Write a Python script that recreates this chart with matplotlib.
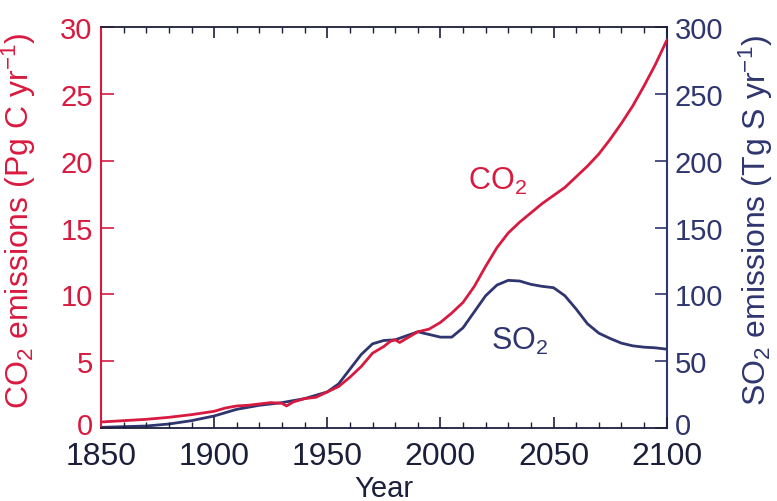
import matplotlib
matplotlib.use("Agg")
import matplotlib.pyplot as plt
from matplotlib.ticker import MultipleLocator
from matplotlib.transforms import ScaledTranslation

plt.rcParams['font.family'] = ['Liberation Sans', 'DejaVu Sans']
plt.rcParams['mathtext.default'] = 'regular'

RED = '#d81a40'
NAVY = '#2f356e'
DARK = '#1c1f3a'

co2_years = [1850, 1860, 1870, 1880, 1890, 1900, 1905, 1910, 1915, 1920, 1925, 1930,
             1932, 1935, 1940, 1945, 1950, 1955, 1960, 1965, 1970, 1975, 1978, 1980,
             1982, 1985, 1988, 1990, 1995, 2000, 2005, 2010, 2015, 2020, 2025, 2030,
             2035, 2040, 2045, 2050, 2055, 2060, 2065, 2070, 2075, 2080, 2085, 2090,
             2095, 2100]
co2_values = [0.45, 0.55, 0.65, 0.8, 1.0, 1.25, 1.5, 1.65, 1.7, 1.8, 1.9, 1.85,
              1.65, 1.95, 2.2, 2.3, 2.7, 3.1, 3.8, 4.6, 5.6, 6.1, 6.5, 6.6,
              6.4, 6.7, 7.0, 7.2, 7.4, 7.9, 8.6, 9.4, 10.6, 12.1, 13.5, 14.6,
              15.4, 16.1, 16.8, 17.4, 18.0, 18.8, 19.6, 20.5, 21.6, 22.8, 24.1, 25.6,
              27.2, 29.0]

so2_years = [1850, 1860, 1870, 1880, 1890, 1900, 1910, 1920, 1930, 1940, 1950, 1955,
             1960, 1965, 1970, 1975, 1980, 1985, 1990, 1995, 2000, 2005, 2010, 2015,
             2020, 2025, 2030, 2035, 2040, 2045, 2050, 2055, 2060, 2065, 2070, 2075,
             2080, 2085, 2090, 2095, 2100]
so2_values = [0.5, 1, 1.5, 3, 5.5, 9, 14, 17, 19, 22, 27, 33,
              44, 55, 63, 65.5, 66, 69, 72, 70, 68, 68, 75, 87,
              99, 107, 110.5, 110, 107.5, 106, 105, 99, 89, 78, 71, 67,
              63.5, 61.5, 60.5, 60, 59]

fig = plt.figure(figsize=(7.77, 5.02), dpi=100)
ax = fig.add_axes([0.130, 0.1454, 0.728, 0.7986])
ax2 = ax.twinx()

ax2.plot(so2_years, so2_values, color=NAVY, lw=2.0, solid_joinstyle='round',
         solid_capstyle='round', zorder=2)
ax.plot(co2_years, co2_values, color=RED, lw=2.0, solid_joinstyle='round',
        solid_capstyle='round', zorder=3)
ax.set_zorder(ax2.get_zorder() + 1)
ax.patch.set_visible(False)

ax.set_xlim(1850, 2100)
ax.set_ylim(0, 30)
ax2.set_ylim(0, 300)

ax.xaxis.set_major_locator(MultipleLocator(50))
ax.xaxis.set_minor_locator(MultipleLocator(10))
ax.yaxis.set_major_locator(MultipleLocator(5))
ax2.yaxis.set_major_locator(MultipleLocator(50))

ax.tick_params(axis='x', which='major', direction='in', length=8, width=1.2,
               top=True, bottom=True, colors=DARK, labelsize=23, pad=9)
ax.tick_params(axis='x', which='minor', direction='in', length=4, width=1.0,
               top=True, bottom=True, colors=DARK)
ax.tick_params(axis='y', which='major', direction='in', length=9, width=1.2,
               left=True, right=False, colors=RED, labelsize=21, pad=6)
ax2.tick_params(axis='y', which='major', direction='in', length=9, width=1.2,
                colors=NAVY, labelsize=21, pad=6)

for sp in ('top', 'bottom'):
    ax.spines[sp].set_color(DARK)
    ax.spines[sp].set_linewidth(1.3)
ax.spines['left'].set_color(RED)
ax.spines['left'].set_linewidth(1.5)
ax.spines['right'].set_visible(False)
ax2.spines['right'].set_color(NAVY)
ax2.spines['right'].set_linewidth(1.5)
for sp in ('top', 'bottom', 'left'):
    ax2.spines[sp].set_visible(False)

ax.set_xlabel('Year', fontsize=21, color=DARK, labelpad=2)
ax.xaxis.set_label_coords(0.5, -0.115)
ax.set_ylabel('CO$_2$ emissions (Pg C yr$^{-1}$)', fontsize=23, color=RED)
ax.yaxis.set_label_coords(-0.112, 0.52)
ax2.set_ylabel('SO$_2$ emissions (Tg S yr$^{-1}$)', fontsize=23, color=NAVY,
               rotation=90)
ax2.yaxis.set_label_coords(1.124, 0.52)

ax.text(2012, 17.9, 'CO$_2$', fontsize=22, color=RED, ha='left', va='baseline')
ax.text(2022.5, 5.9, 'SO$_2$', fontsize=22, color=NAVY, ha='left', va='baseline')

# lift the bottom "0" labels slightly, as in the reference
fig.canvas.draw()
lift = ScaledTranslation(0, 5 / 100, fig.dpi_scale_trans)
for a, lab_attr in ((ax, 'label1'), (ax2, 'label2')):
    for tk in a.yaxis.get_major_ticks():
        if abs(tk.get_loc()) < 1e-9:
            lab = getattr(tk, lab_attr)
            lab.set_transform(lab.get_transform() + lift)

fig.savefig('out.png', dpi=100)
